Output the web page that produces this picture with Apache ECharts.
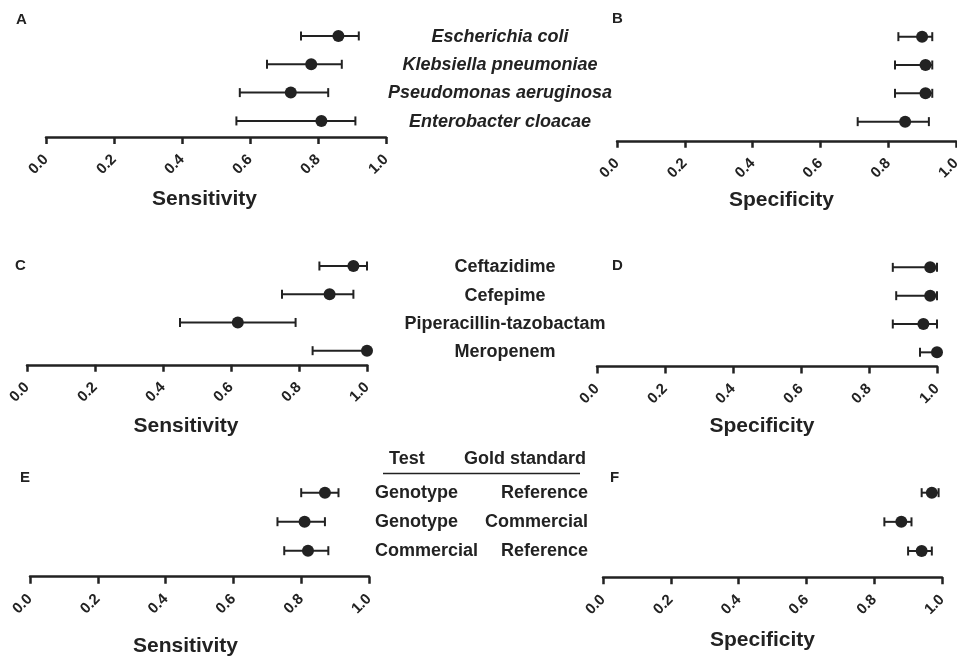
<!DOCTYPE html>
<html>
<head>
<meta charset="utf-8">
<script src="https://cdn.jsdelivr.net/npm/echarts@6/dist/echarts.min.js"></script>
<style>
  html, body { margin: 0; padding: 0; background: #fff; }
  #main { width: 957px; height: 659px; }
</style>
</head>
<body>
<div id="main"></div>
<script>
// tick labels of every x axis
const tickLabels = ['0.0', '0.2', '0.4', '0.6', '0.8', '1.0'];

// A / B : organisms
const organisms = ['Escherichia coli', 'Klebsiella pneumoniae', 'Pseudomonas aeruginosa', 'Enterobacter cloacae'];
const orgSens = [0.86, 0.78, 0.72, 0.81];
const orgSensLow = [0.75, 0.65, 0.57, 0.56];
const orgSensHigh = [0.92, 0.87, 0.83, 0.91];
const orgSpec = [0.90, 0.91, 0.91, 0.85];
const orgSpecLow = [0.83, 0.82, 0.82, 0.71];
const orgSpecHigh = [0.93, 0.93, 0.93, 0.92];

// C / D : antibiotics
const drugs = ['Ceftazidime', 'Cefepime', 'Piperacillin-tazobactam', 'Meropenem'];
const drugSens = [0.96, 0.89, 0.62, 1.0];
const drugSensLow = [0.86, 0.75, 0.45, 0.84];
const drugSensHigh = [1.0, 0.96, 0.79, 1.0];
const drugSpec = [0.98, 0.98, 0.96, 1.0];
const drugSpecLow = [0.87, 0.88, 0.87, 0.95];
const drugSpecHigh = [1.0, 1.0, 1.0, 1.0];

// E / F : test vs gold standard
const tableHeader = ['Test', 'Gold standard'];
const tests = ['Genotype', 'Genotype', 'Commercial'];
const goldStandards = ['Reference', 'Commercial', 'Reference'];
const cmpSens = [0.87, 0.81, 0.82];
const cmpSensLow = [0.80, 0.73, 0.75];
const cmpSensHigh = [0.91, 0.87, 0.88];
const cmpSpec = [0.97, 0.88, 0.94];
const cmpSpecLow = [0.94, 0.83, 0.90];
const cmpSpecHigh = [0.99, 0.91, 0.97];

const comparisons = tests.map((t, i) => t + '|' + goldStandards[i]);

const INK = '#222';
const FONT = '"Liberation Sans", Arial, sans-serif';

// one entry per panel: layout only
const panels = [
  { letter: 'A', lx: 16, ly: 12, left: 46, width: 340, top: 21.8, height: 113.3, offset: 2, name: 'Sensitivity', gap: 52, shift: -11.5,
    cats: organisms, est: orgSens, lo: orgSensLow, hi: orgSensHigh },
  { letter: 'B', lx: 612, ly: 11, left: 617, width: 339, top: 22.5, height: 113.3, offset: 5, name: 'Specificity', gap: 49, shift: -5,
    cats: organisms, est: orgSpec, lo: orgSpecLow, hi: orgSpecHigh, labels: 'italic' },
  { letter: 'C', lx: 15, ly: 258, left: 27, width: 340, top: 251.9, height: 112.9, offset: 0, name: 'Sensitivity', gap: 51, shift: -11,
    cats: drugs, est: drugSens, lo: drugSensLow, hi: drugSensHigh },
  { letter: 'D', lx: 612, ly: 258, left: 597, width: 340, top: 253.2, height: 113.3, offset: 0, name: 'Specificity', gap: 49, shift: -5,
    cats: drugs, est: drugSpec, lo: drugSpecLow, hi: drugSpecHigh, labels: 'normal' },
  { letter: 'E', lx: 20, ly: 470, left: 30, width: 339, top: 478.2, height: 87, offset: 11.5, name: 'Sensitivity', gap: 59, shift: -14,
    cats: comparisons, est: cmpSens, lo: cmpSensLow, hi: cmpSensHigh },
  { letter: 'F', lx: 610, ly: 470, left: 603, width: 339, top: 478.1, height: 87.5, offset: 11.7, name: 'Specificity', gap: 52, shift: -10,
    cats: comparisons, est: cmpSpec, lo: cmpSpecLow, hi: cmpSpecHigh, labels: 'table' }
];

function errorBar(params, api) {
  const a = api.coord([api.value(1), api.value(0)]);
  const b = api.coord([api.value(2), api.value(0)]);
  const h = 4.5;
  const style = { stroke: INK, lineWidth: 2 };
  return {
    type: 'group',
    children: [
      { type: 'line', shape: { x1: a[0], y1: a[1], x2: b[0], y2: b[1] }, style: style },
      { type: 'line', shape: { x1: a[0], y1: a[1] - h, x2: a[0], y2: a[1] + h }, style: style },
      { type: 'line', shape: { x1: b[0], y1: b[1] - h, x2: b[0], y2: b[1] + h }, style: style }
    ]
  };
}

function yLabel(p) {
  if (!p.labels) return { show: false };
  const common = { show: true, color: INK, fontFamily: FONT, fontSize: 18, fontWeight: 'bold' };
  if (p.labels === 'italic') {
    return Object.assign(common, { fontStyle: 'italic', align: 'center', margin: 117, padding: [6, 0, 0, 0] });
  }
  if (p.labels === 'normal') {
    return Object.assign(common, { align: 'center', margin: 92, padding: [5, 0, 0, 0] });
  }
  return Object.assign(common, {
    margin: 15,
    formatter: v => {
      const s = v.split('|');
      return '{a|' + s[0] + '}{b|' + s[1] + '}';
    },
    rich: {
      a: { width: 112, align: 'left', color: INK, fontFamily: FONT, fontSize: 18, fontWeight: 'bold' },
      b: { width: 101, align: 'right', color: INK, fontFamily: FONT, fontSize: 18, fontWeight: 'bold' }
    }
  });
}

const option = {
  animation: false,
  backgroundColor: '#fff',
  title: panels.map(p => ({
    text: p.letter, left: p.lx, top: p.ly, padding: 0,
    textStyle: { color: INK, fontFamily: FONT, fontSize: 15, fontWeight: 'bold' }
  })),
  grid: panels.map(p => ({
    left: p.left, top: p.top, width: p.width, height: p.height,
    containLabel: false, outerBoundsMode: 'none'
  })),
  xAxis: panels.map((p, i) => ({
    type: 'value', gridIndex: i, min: 0, max: 1, interval: 0.2, offset: p.offset,
    name: p.name, nameLocation: 'middle', nameGap: p.gap,
    nameTextStyle: { color: INK, fontFamily: FONT, fontSize: 21, fontWeight: 'bold', padding: [0, -2 * p.shift, 0, 0] },
    axisLine: { show: true, lineStyle: { color: INK, width: 2.5 } },
    axisTick: { show: true, length: 7, lineStyle: { color: INK, width: 2.5 } },
    splitLine: { show: false },
    axisLabel: {
      rotate: 45, margin: 20, color: INK, fontFamily: FONT, fontSize: 15, fontWeight: 'bold',
      formatter: v => tickLabels[Math.round(v * 5)]
    }
  })),
  yAxis: panels.map((p, i) => ({
    type: 'category', gridIndex: i, data: p.cats, inverse: true,
    axisLine: { show: false }, axisTick: { show: false }, splitLine: { show: false },
    axisLabel: yLabel(p)
  })),
  series: [].concat(
    panels.map((p, i) => ({
      type: 'custom', xAxisIndex: i, yAxisIndex: i, renderItem: errorBar,
      encode: { x: [1, 2], y: 0 }, clip: false,
      data: p.cats.map((c, k) => [k, p.lo[k], p.hi[k]])
    })),
    panels.map((p, i) => ({
      type: 'scatter', xAxisIndex: i, yAxisIndex: i, symbol: 'circle', symbolSize: 12, clip: false,
      itemStyle: { color: INK, opacity: 1 }, z: 3,
      data: p.cats.map((c, k) => [p.est[k], k])
    }))
  ),
  graphic: [
    { type: 'text', left: 389, top: 450, style: { text: tableHeader[0], fill: INK, font: 'bold 18px ' + FONT } },
    { type: 'text', right: 957 - 586, top: 450, style: { text: tableHeader[1], fill: INK, font: 'bold 18px ' + FONT } },
    { type: 'line', shape: { x1: 383, y1: 473.5, x2: 580, y2: 473.5 }, style: { stroke: INK, lineWidth: 1.5 } }
  ]
};

const chart = echarts.init(document.getElementById('main'));
chart.setOption(option);
</script>
</body>
</html>
